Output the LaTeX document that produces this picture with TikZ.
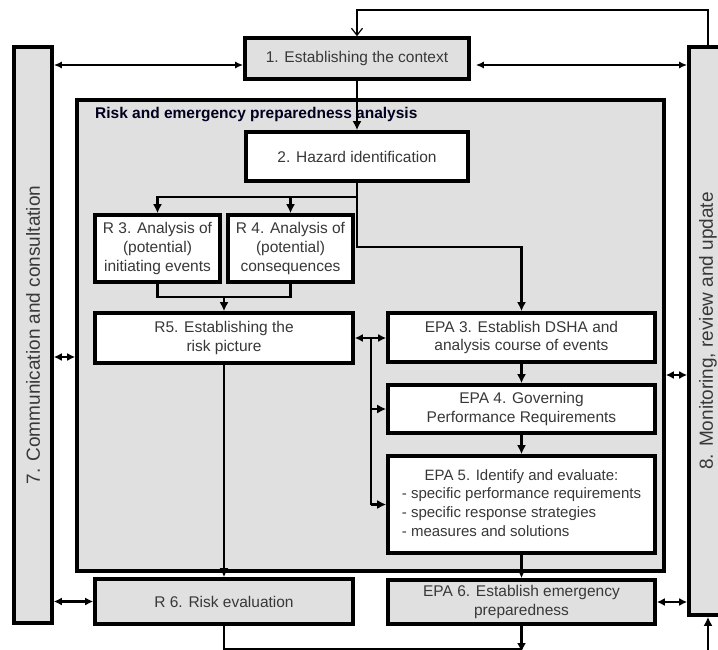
\documentclass[tikz,border=0pt]{standalone}
\usepackage{fontspec}
\setmainfont{Liberation Sans}
\usetikzlibrary{arrows.meta,calc}
\definecolor{boxgray}{HTML}{E0E0E0}
\definecolor{txt}{HTML}{383838}
\begin{document}
\begin{tikzpicture}[x=1pt,y=-1pt,
  box/.style={draw=black,line width=3.6pt,fill=white,inner sep=0pt,text=txt,align=center,
    font=\fontsize{15.5}{18.8}\selectfont},
  gbox/.style={box,fill=boxgray},
  vlabel/.style={rotate=90,text=txt,font=\fontsize{19}{22}\selectfont},
  conn/.style={line width=2.7pt,-{Latex[length=9pt,width=9pt]}},
  plain/.style={line width=2.7pt},
  dconn/.style={line width=2.7pt,{Latex[length=8pt,width=8pt]}-{Latex[length=8pt,width=8pt]}},
  dthin/.style={line width=1.6pt,{Latex[length=8pt,width=7pt]}-{Latex[length=8pt,width=7pt]}},
]
\useasboundingbox (0,0) rectangle (718,650);
\clip (0,0) rectangle (718,650);
\fill[white] (0,0) rectangle (718,650);

% outer frame boxes
\node[gbox,minimum width=38pt,minimum height=576pt] (b7) at (33,335) {};
\node[vlabel] (l7) at (b7.center) {7. Communication and consultation};
\node[gbox,minimum width=38pt,minimum height=568pt] (b8) at (708,331) {};
\node[vlabel] (l8) at (b8.center) {8. Monitoring, review and update};

\node[gbox,minimum width=224pt,minimum height=41pt] (b1) at (357,58.5) {1. Establishing the context};

% big analysis box
\node[draw=black,line width=3.6pt,fill=boxgray,inner sep=0pt,minimum width=587pt,minimum height=471pt] (big) at (370.5,335.5) {};
\node[anchor=west,inner sep=0pt,font=\bfseries\fontsize{15.5}{18}\selectfont,text=black!88!blue] (title) at (95,115) {Risk and emergency preparedness analysis};

\node[box,minimum width=222pt,minimum height=49pt] (b2) at (357,156.5) {2. Hazard identification};
\node[box,minimum width=125pt,minimum height=67pt] (r3) at (157.5,248.5) {R 3. Analysis of\\(potential)\\initiating events};
\node[box,minimum width=125pt,minimum height=67pt] (r4) at (290.5,248.5) {R 4. Analysis of\\(potential)\\consequences};
\node[box,minimum width=258pt,minimum height=50pt] (r5) at (224,338) {R5. Establishing the\\risk picture};
\node[box,minimum width=267pt,minimum height=49pt] (e3) at (521.5,337.5) {EPA 3. Establish DSHA and\\analysis course of events};
\node[box,minimum width=267pt,minimum height=48pt] (e4) at (521.5,409) {EPA 4. Governing\\Performance Requirements};
\node[box,minimum width=267pt,minimum height=97pt,font=\fontsize{15}{18.7}\selectfont] (e5) at (521.5,504.5) {%
  \begin{tabular}{@{}l@{}}
  \multicolumn{1}{@{}c@{}}{EPA 5. Identify and evaluate:}\\
  - specific performance requirements\\
  - specific response strategies\\
  - measures and solutions
  \end{tabular}};
\node[gbox,minimum width=258pt,minimum height=45pt] (r6) at (224,601.5) {R 6. Risk evaluation};
\node[gbox,minimum width=267pt,minimum height=44pt] (e6) at (521.5,602) {EPA 6. Establish emergency\\preparedness};

% helper coordinates
\coordinate (yTop) at (0,10);
\coordinate (yA) at (0,65);
\coordinate (ySplit) at (0,197);
\coordinate (yRight) at (0,247);
\coordinate (yMerge) at (0,297);
\coordinate (yL) at (0,357);
\coordinate (yR) at (0,375);
\coordinate (vx) at (371,0);
\coordinate (yBot) at (0,649);
\coordinate (yBotTip) at (0,652);
\coordinate (yBelow) at (0,670);

% feedback line at the top
\draw[line width=1.2pt,-{Straight Barb[length=7pt,width=11pt]}] (b8.north) |- (b1.north |- yTop) -- (b1.north);

% context arrows
\draw[dthin] (b7.east |- yA) -- (b1.west |- yA);
\draw[dthin] ($(b1.east |- yA)+(5,0)$) -- (b8.west |- yA);

% main flow
\draw[line width=2.2pt,-{Latex[length=9pt,width=9pt]}] (b1.south) -- (b2.north);
\draw[conn] (b2.south) |- (r3.north |- ySplit) -- (r3.north);
\draw[conn] (r4.north |- ySplit) -- (r4.north);
\draw[conn] (b2.south) |- (e3.north |- yRight) -- (e3.north);
\draw[plain] (r3.south) |- (r4.south |- yMerge) -- (r4.south);
\draw[conn] (r5.north |- yMerge) -- (r5.north);
\draw[dconn] (r5.east) -- (r5.east -| e3.west);
\draw[plain] (vx |- r5.east) -- (vx |- e5.west);
\draw[conn] (vx |- e4.west) -- (e4.west);
\draw[conn] (vx |- e5.west) -- (e5.west);
\draw[conn] (e3.south) -- (e4.north);
\draw[conn] (e4.south) -- (e5.north);
\draw[conn] (e5.south) -- (e6.north);
\draw[conn] (r5.south) -- (r6.north);

% side links
\draw[dconn] (b7.east |- yL) -- (big.west |- yL);
\draw[dconn] (big.east |- yR) -- (b8.west |- yR);
\draw[dconn] (b7.east |- r6.west) -- (r6.west);
\draw[dconn] (e6.east) -- (e6.east -| b8.west);

% bottom connections
\draw[plain] (r6.south) |- (e6.south |- yBot);
\draw[conn] (e6.south) -- (e6.south |- yBotTip);
\draw[conn] (b8.south |- yBelow) -- (b8.south);
\end{tikzpicture}
\end{document}
